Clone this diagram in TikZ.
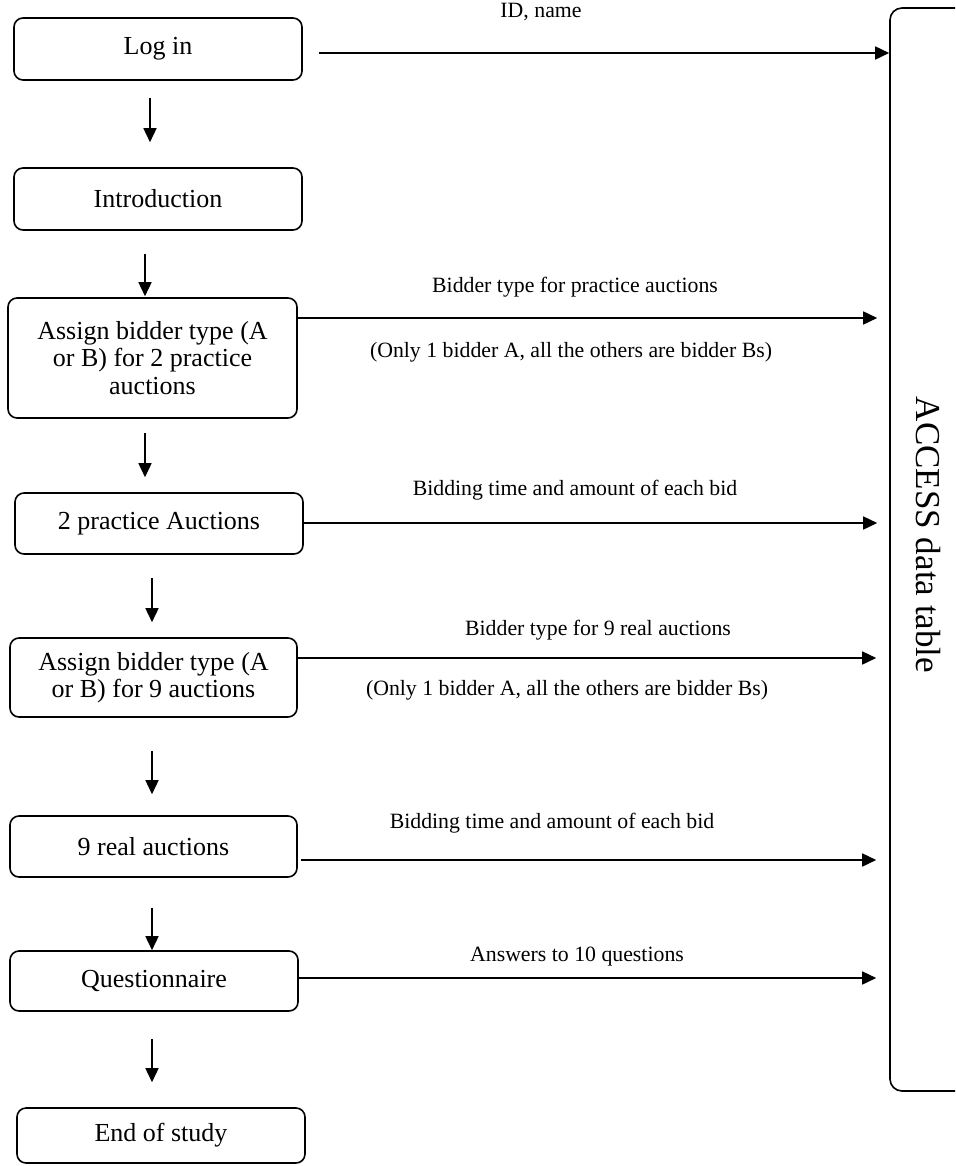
\documentclass[tikz,border=0pt]{standalone}
\usepackage{fontspec}
\setmainfont{Liberation Serif}
\usetikzlibrary{arrows.meta}
\begin{document}
\begin{tikzpicture}[x=1pt,y=-1pt,
  every node/.style={inner sep=0pt},
  stepbox/.style={draw, line width=1.6pt, rounded corners=9pt, align=center,
    font=\rmfamily\fontsize{26}{27.5}\selectfont},
  tablebox/.style={draw, line width=1.6pt, rounded corners=12pt},
  flow/.style={line width=1.6pt, -{Triangle[length=14pt,width=13pt]}},
  lbl/.style={anchor=center, font=\rmfamily\fontsize{21.8}{24}\selectfont}]
\useasboundingbox (0,0) rectangle (955,1166);
\clip (0,0) rectangle (955,1166);
% process boxes
\node[stepbox, minimum width=288pt, minimum height=62pt] (login) at (158,49) {Log in};
\node[stepbox, minimum width=288pt, minimum height=62pt] (intro) at (158,199) {Introduction};
\node[stepbox, minimum width=289pt, minimum height=120pt] (assign2) at (152.5,358) {Assign bidder type (A\\or B) for 2 practice\\auctions};
\node[stepbox, minimum width=288pt, minimum height=61pt] (prac) at (159,523.5) {2 practice Auctions};
\node[stepbox, minimum width=287pt, minimum height=79pt] (assign9) at (153.5,677.5) {Assign bidder type (A\\or B) for 9 auctions};
\node[stepbox, minimum width=287pt, minimum height=61pt] (real) at (153.5,846.5) {9 real auctions};
\node[stepbox, minimum width=288pt, minimum height=60pt] (quest) at (154,981) {Questionnaire};
\node[stepbox, minimum width=288pt, minimum height=55pt] (endst) at (161,1135.5) {End of study};
% data table
\node[tablebox, minimum width=130pt, minimum height=1083pt] (table) at (955,549.5) {};
\node[rotate=-90, font=\rmfamily\fontsize{35}{40}\selectfont] (tlabel) at (928,535) {ACCESS data table};
% vertical flow
\draw[flow, shorten <=17pt, shorten >=25pt] ([xshift=-8pt]login.south) -- ([xshift=-8pt]intro.north);
\draw[flow, shorten <=23pt, shorten >=1pt] ([xshift=-13pt]intro.south) -- ([xshift=-7.5pt]assign2.north);
\draw[flow, shorten <=14pt, shorten >=15pt] ([xshift=-7.5pt]assign2.south) -- ([xshift=-14pt]prac.north);
\draw[flow, shorten <=23pt, shorten >=15pt] ([xshift=-7pt]prac.south) -- ([xshift=-1.5pt]assign9.north);
\draw[flow, shorten <=33pt, shorten >=21pt] ([xshift=-1.5pt]assign9.south) -- ([xshift=-1.5pt]real.north);
\draw[flow, shorten <=30pt] ([xshift=-1.5pt]real.south) -- ([xshift=-2pt]quest.north);
\draw[flow, shorten <=27pt, shorten >=25pt] ([xshift=-2pt]quest.south) -- ([xshift=-9pt]endst.north);
% horizontal flows to table
\coordinate (h1) at ([yshift=-4pt]login.east);
\coordinate (h2) at ([yshift=40pt]assign2.east);
\coordinate (h3) at ([yshift=0.5pt]prac.east);
\coordinate (h4) at ([yshift=19.5pt]assign9.east);
\coordinate (h5) at ([yshift=-13.5pt]real.east);
\coordinate (h6) at ([yshift=3pt]quest.east);
\draw[flow, shorten <=16pt] (h1) -- (h1 -| table.west);
\draw[flow, shorten >=12pt] (h2) -- (h2 -| table.west);
\draw[flow, shorten >=12pt] (h3) -- (h3 -| table.west);
\draw[flow, shorten >=13pt] (h4) -- (h4 -| table.west);
\draw[flow, shorten <=3pt, shorten >=13pt] (h5) -- (h5 -| table.west);
\draw[flow, shorten >=13pt] (h6) -- (h6 -| table.west);
% labels
\node[lbl] (t1) at (541,12) {ID, name};
\node[lbl] (t2) at (575,287) {Bidder type for practice auctions};
\node[lbl] (t3) at (571,352) {(Only 1 bidder A, all the others are bidder Bs)};
\node[lbl] (t4) at (575,490) {Bidding time and amount of each bid};
\node[lbl] (t5) at (598,630) {Bidder type for 9 real auctions};
\node[lbl] (t6) at (567,690) {(Only 1 bidder A, all the others are bidder Bs)};
\node[lbl] (t7) at (552,823) {Bidding time and amount of each bid};
\node[lbl] (t8) at (577,957) {Answers to 10 questions};
\end{tikzpicture}
\end{document}
